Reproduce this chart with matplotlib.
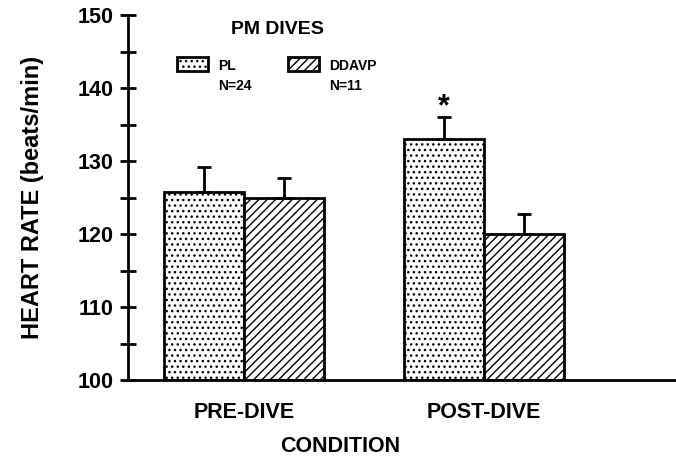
import numpy as np
import matplotlib
matplotlib.use("Agg")
import matplotlib.pyplot as plt
from matplotlib.patches import Rectangle

plt.rcParams["font.family"] = ["Liberation Sans", "DejaVu Sans"]
plt.rcParams["font.weight"] = "bold"
plt.rcParams["hatch.linewidth"] = 1.0

# ===== data =====
conditions = ["PRE-DIVE", "POST-DIVE"]
pl_mean = [125.7, 133.0]
pl_err = [3.5, 3.0]
ddavp_mean = [125.0, 120.0]
ddavp_err = [2.7, 2.7]
series_labels = ["PL", "DDAVP"]
series_n = ["N=24", "N=11"]

fig = plt.figure(figsize=(6.76, 4.63), dpi=100)
ax = fig.add_axes([128 / 676, 1 - 380 / 463, 548 / 676, 365 / 463])

centers = np.arange(len(conditions)) * 3 + 1.45
w = 1.0
ax.bar(centers - w / 2, np.array(pl_mean) - 100, w, bottom=100, facecolor="white",
       edgecolor="black", linewidth=2, hatch="...")
ax.bar(centers + w / 2, np.array(ddavp_mean) - 100, w, bottom=100, facecolor="white",
       edgecolor="black", linewidth=2, hatch="////")
ax.errorbar(centers - w / 2, pl_mean, yerr=[np.zeros(2), pl_err], fmt="none",
            ecolor="black", elinewidth=2, capsize=5, capthick=2)
ax.errorbar(centers + w / 2, ddavp_mean, yerr=[np.zeros(2), ddavp_err], fmt="none",
            ecolor="black", elinewidth=2, capsize=5, capthick=2)
# significance star
ax.text(centers[1] - w / 2, pl_mean[1] + pl_err[1] + 1.3, "*", ha="center", va="center",
        fontsize=22, fontweight="bold")

ax.set_xlim(0, 548 / 80)
ax.set_ylim(100, 150)
ax.set_yticks([100, 110, 120, 130, 140, 150])
ax.set_yticks(np.arange(105, 150, 10), minor=True)
ax.tick_params(axis="y", which="both", direction="inout", length=11, width=2,
               labelsize=15.5, pad=5)
ax.set_xticks([])
for s in ["top", "right"]:
    ax.spines[s].set_visible(False)
ax.spines["left"].set_linewidth(2)
ax.spines["bottom"].set_linewidth(2)
for lab in ax.get_yticklabels():
    lab.set_fontweight("bold")

fig.text(33 / 676, 1 - 197 / 463, "HEART RATE (beats/min)", rotation=90, ha="center",
         va="center", fontsize=17, fontweight="bold")
for c, name in zip(centers, conditions):
    fig.text((128 + c * 80) / 676, 1 - 412 / 463, name, ha="center", va="center",
             fontsize=15.5, fontweight="bold")
fig.text(340 / 676, 1 - 446 / 463, "CONDITION", ha="center", va="center",
         fontsize=15.5, fontweight="bold")

# legend drawn by hand like the original
fig.text(277 / 676, 1 - 30 / 463, "PM DIVES", ha="center", va="center",
         fontsize=14, fontweight="bold")
patch_x = [177, 288]
hatches = ["...", "////"]
for px, h, lab, n in zip(patch_x, hatches, series_labels, series_n):
    fig.patches.append(Rectangle((px / 676, 1 - 71 / 463), 31 / 676, 14 / 463,
                                 transform=fig.transFigure, facecolor="white",
                                 edgecolor="black", linewidth=2, hatch=h))
    fig.text((px + 41) / 676, 1 - 66 / 463, lab, ha="left", va="center",
             fontsize=10, fontweight="bold")
    fig.text((px + 41) / 676, 1 - 86 / 463, n, ha="left", va="center",
             fontsize=10, fontweight="bold")

fig.savefig("out.png", dpi=100)
